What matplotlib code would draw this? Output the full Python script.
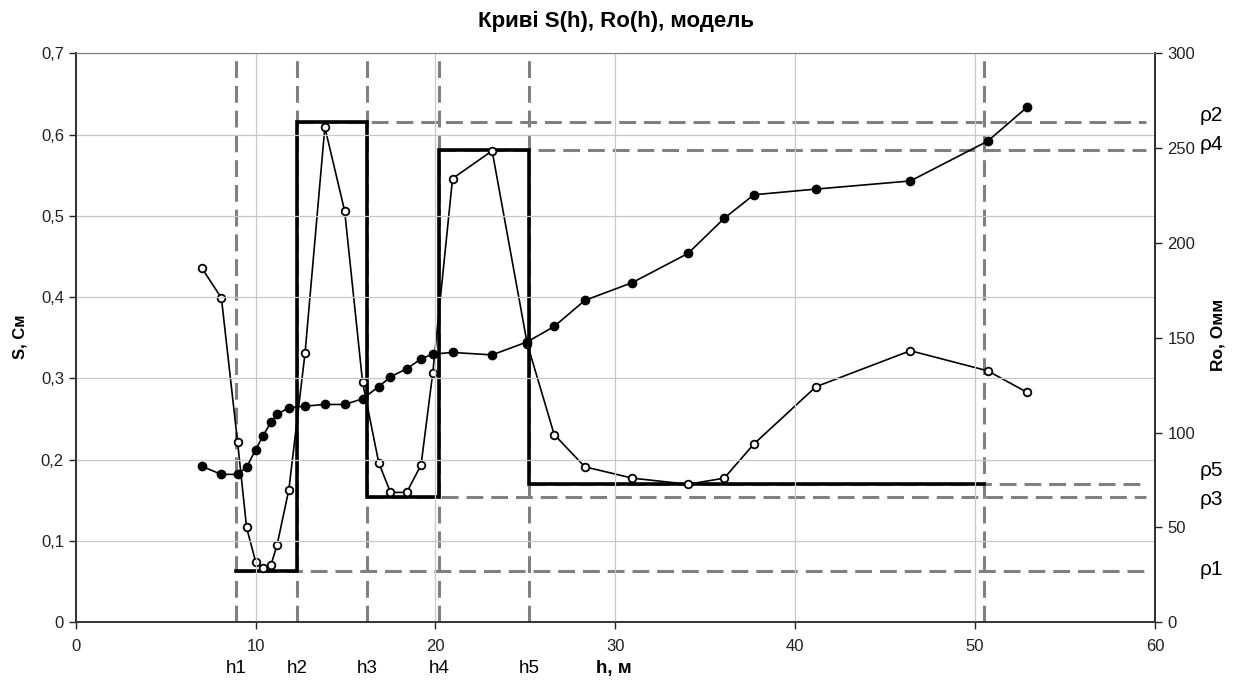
import matplotlib
matplotlib.use("Agg")
import matplotlib.pyplot as plt
from matplotlib.ticker import FuncFormatter, MultipleLocator
from matplotlib.transforms import blended_transform_factory

plt.rcParams["font.family"] = ["Liberation Sans", "DejaVu Sans"]

# measured curves
depth = [7.0, 8.1, 9.0, 9.5, 10.0, 10.4, 10.85, 11.2, 11.85, 12.75, 13.85, 14.95,
         15.95, 16.85, 17.5, 18.4, 19.2, 19.85, 20.95, 23.15, 25.1, 26.6, 28.3,
         30.95, 34.05, 36.05, 37.7, 41.15, 46.4, 50.7, 52.9]
s_values = [0.192, 0.182, 0.182, 0.191, 0.212, 0.229, 0.246, 0.256, 0.264, 0.266,
            0.268, 0.268, 0.275, 0.290, 0.302, 0.312, 0.324, 0.330, 0.332, 0.329,
            0.345, 0.364, 0.396, 0.418, 0.454, 0.497, 0.526, 0.533, 0.543, 0.592, 0.634]
ro_values = [187, 171, 95, 50, 32, 28.5, 30, 41, 70, 142, 261, 217, 126.5, 84,
             68.5, 68.5, 83, 131.5, 234, 248.6, 147, 99, 82, 76, 72.8, 76, 94,
             124.2, 143.2, 132.6, 121.2]

# layered model
boundaries = [8.9, 12.3, 16.2, 20.2, 25.2, 50.5]
boundary_labels = ["h1", "h2", "h3", "h4", "h5"]
rho = [27, 264, 66, 249, 73]
rho_labels = ["ρ1", "ρ2", "ρ3", "ρ4", "ρ5"]
rho_label_pos = [28, 267, 65, 252, 80]
x_end = 59.5

fig = plt.figure(figsize=(12.43, 6.84), dpi=100)
ax1 = fig.add_axes([0.0609, 0.0902, 0.8683, 0.8318])
ax2 = ax1.twinx()
ax1.set_zorder(ax2.get_zorder() + 1)
ax1.patch.set_visible(False)

dash_kw = dict(color="#808080", lw=2.2, dashes=(5.5, 2.6))

# vertical boundaries
for b in boundaries:
    ax2.axvline(b, zorder=1, **dash_kw)

# horizontal resistivity levels
for b, r in zip(boundaries, rho):
    ax2.plot([b, x_end], [r, r], zorder=1, **dash_kw)

# model step line
step_x = [boundaries[0]]
step_y = [rho[0]]
for i in range(1, len(boundaries)):
    step_x.append(boundaries[i])
    step_y.append(rho[i - 1])
    if i < len(rho):
        step_x.append(boundaries[i])
        step_y.append(rho[i])
ax2.plot(step_x, step_y, color="black", lw=2.6, zorder=2, solid_joinstyle="miter")

ax2.plot(depth, ro_values, color="black", lw=1.2, marker="o", ms=5.5,
         mfc="white", mec="black", mew=1.3, zorder=3)
ax1.plot(depth, s_values, color="black", lw=1.2, marker="o", ms=6,
         mfc="black", mec="black", zorder=4)

ax1.set_xlim(0, 60)
ax1.set_ylim(0, 0.7)
ax2.set_ylim(0, 300)
ax1.xaxis.set_major_locator(MultipleLocator(10))
ax1.yaxis.set_major_locator(MultipleLocator(0.1))
ax2.yaxis.set_major_locator(MultipleLocator(50))
ax1.yaxis.set_major_formatter(FuncFormatter(lambda v, p: "0" if abs(v) < 1e-9 else f"{v:.1f}".replace(".", ",")))

ax1.grid(True, color="#c8c8c8", lw=0.9)
ax1.tick_params(direction="out", length=5, width=1, labelsize=12, colors="#222222", pad=3.5)
ax2.tick_params(direction="out", length=5, width=1, labelsize=12, colors="#222222", pad=4)
ax1.tick_params(axis="x", pad=7)

for ax in (ax1, ax2):
    ax.spines["top"].set_color("#808080")
    ax.spines["left"].set_color("#333333")
    ax.spines["right"].set_color("#333333")
    ax.spines["bottom"].set_color("#333333")
    ax.spines["left"].set_linewidth(1.4)
    ax.spines["right"].set_linewidth(1.4)
    ax.spines["bottom"].set_linewidth(1.2)

fig.text(0.4955, 1 - 21 / 684, "Криві S(h), Ro(h), модель", ha="center", va="center",
         fontsize=16, fontweight="bold")

trans = blended_transform_factory(ax1.transData, ax1.transAxes)
for b, lab in zip(boundaries, boundary_labels):
    ax1.text(b, -0.082, lab, transform=trans, ha="center", va="center", fontsize=13.5)
ax1.text(29.9, -0.082, "h, м", transform=trans, ha="center", va="center",
         fontsize=13.5, fontweight="bold")

trans2 = blended_transform_factory(ax2.transAxes, ax2.transData)
for pos, lab in zip(rho_label_pos, rho_labels):
    ax2.text(1.0415, pos, lab, transform=trans2, ha="left", va="center", fontsize=15)

fig.text(20 / 1243, 1 - 337 / 684, "S, См", rotation=90, ha="center", va="center",
         fontsize=12, fontweight="bold")
fig.text(1218 / 1243, 1 - 335 / 684, "Ro, Омм", rotation=90, ha="center", va="center",
         fontsize=12.5, fontweight="bold")

fig.savefig("out.png", dpi=100)
